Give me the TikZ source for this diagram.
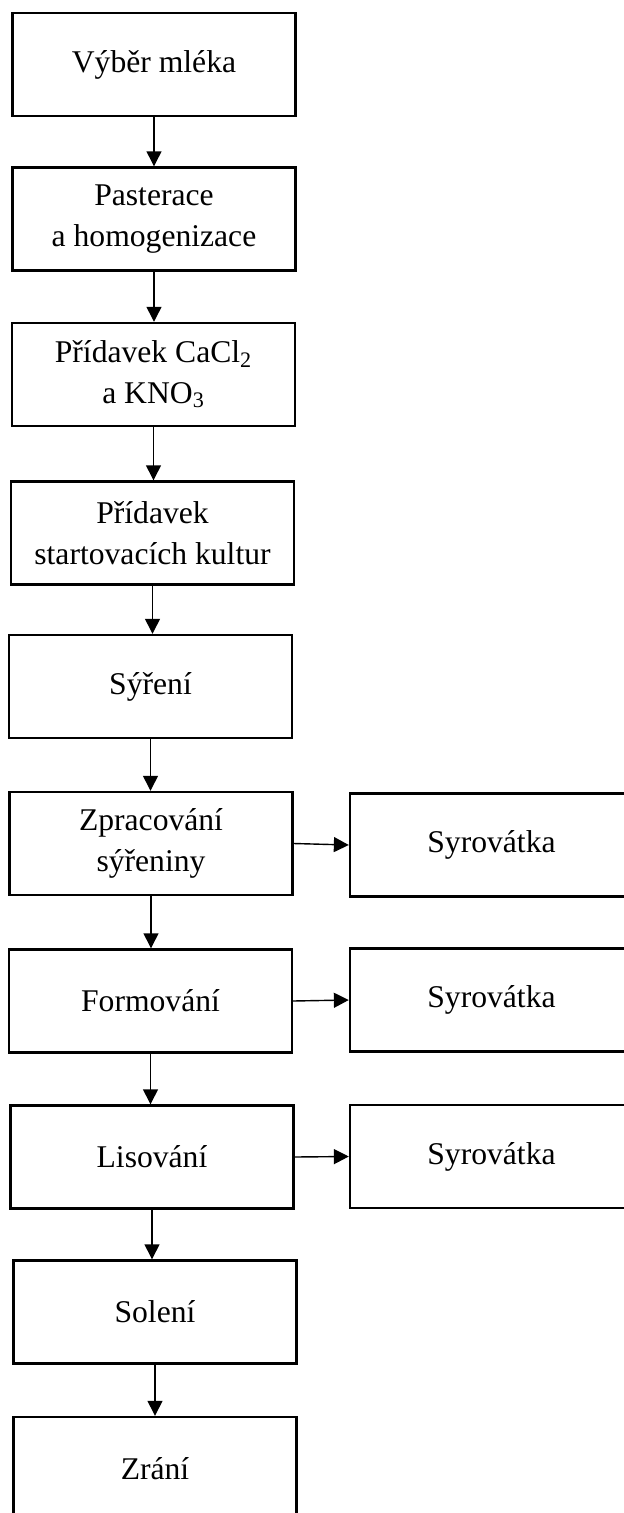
\documentclass[tikz,border=0pt]{standalone}
\usepackage{fontspec}
\setmainfont{Liberation Serif}
\usetikzlibrary{positioning, arrows.meta}

\tikzset{
  stage/.style={rectangle, draw, line width=1.4pt, fill=white, minimum width=5.66cm, minimum height=2.06cm, align=center, font=\fontsize{18}{23}\selectfont},
  flow/.style={-{Triangle[width=8.5pt, length=8.5pt]}, line width=0.8pt},
}

\begin{document}
\begin{tikzpicture}[x=0.02cm, y=-0.02cm]
                    \useasboundingbox (0, 0) rectangle (624, 1513);
                    \clip (0, 0) rectangle (624, 1513);

                    \node[stage] (vyber) at (154, 64.5) {Výběr mléka};
                    \node[stage] (paster) at (154, 219) {Pasterace\\a homogenizace};
                    \node[stage] (pridavek) at (153.5, 374.5) {Přídavek CaCl\textsubscript{2}\\a KNO\textsubscript{3}};
                    \node[stage] (kultury) at (152.5, 533) {Přídavek\\startovacích kultur};
                    \node[stage] (syreni) at (150.5, 686.5) {Sýření};
                    \node[stage] (zprac) at (151, 843.5) {Zpracování\\sýřeniny};
                    \node[stage] (formov) at (150.5, 1001) {Formování};
                    \node[stage] (lisov) at (152, 1157) {Lisování};
                    \node[stage] (soleni) at (155, 1312) {Solení};
                    \node[stage] (zrani) at (155, 1468.5) {Zrání};

                    \node[stage] (syr1) at (491.5, 845) {Syrovátka};
                    \node[stage] (syr2) at (491.5, 1000) {Syrovátka};
                    \node[stage] (syr3) at (491.5, 1156.5) {Syrovátka};

                    \draw[flow] (vyber.south) -- (vyber.south |- paster.north);
                    \draw[flow] (paster.south) -- (paster.south |- pridavek.north);
                    \draw[flow] (pridavek.south) -- (pridavek.south |- kultury.north);
                    \draw[flow] (kultury.south) -- (kultury.south |- syreni.north);
                    \draw[flow] (syreni.south) -- (syreni.south |- zprac.north);
                    \draw[flow] (zprac.south) -- (zprac.south |- formov.north);
                    \draw[flow] (formov.south) -- (formov.south |- lisov.north);
                    \draw[flow] (lisov.south) -- (lisov.south |- soleni.north);
                    \draw[flow] (soleni.south) -- (soleni.south |- zrani.north);

                    \draw[flow] (zprac.east) -- (syr1.west);
                    \draw[flow] (formov.east) -- (syr2.west);
                    \draw[flow] (lisov.east) -- (syr3.west);
                \end{tikzpicture}
\end{document}
